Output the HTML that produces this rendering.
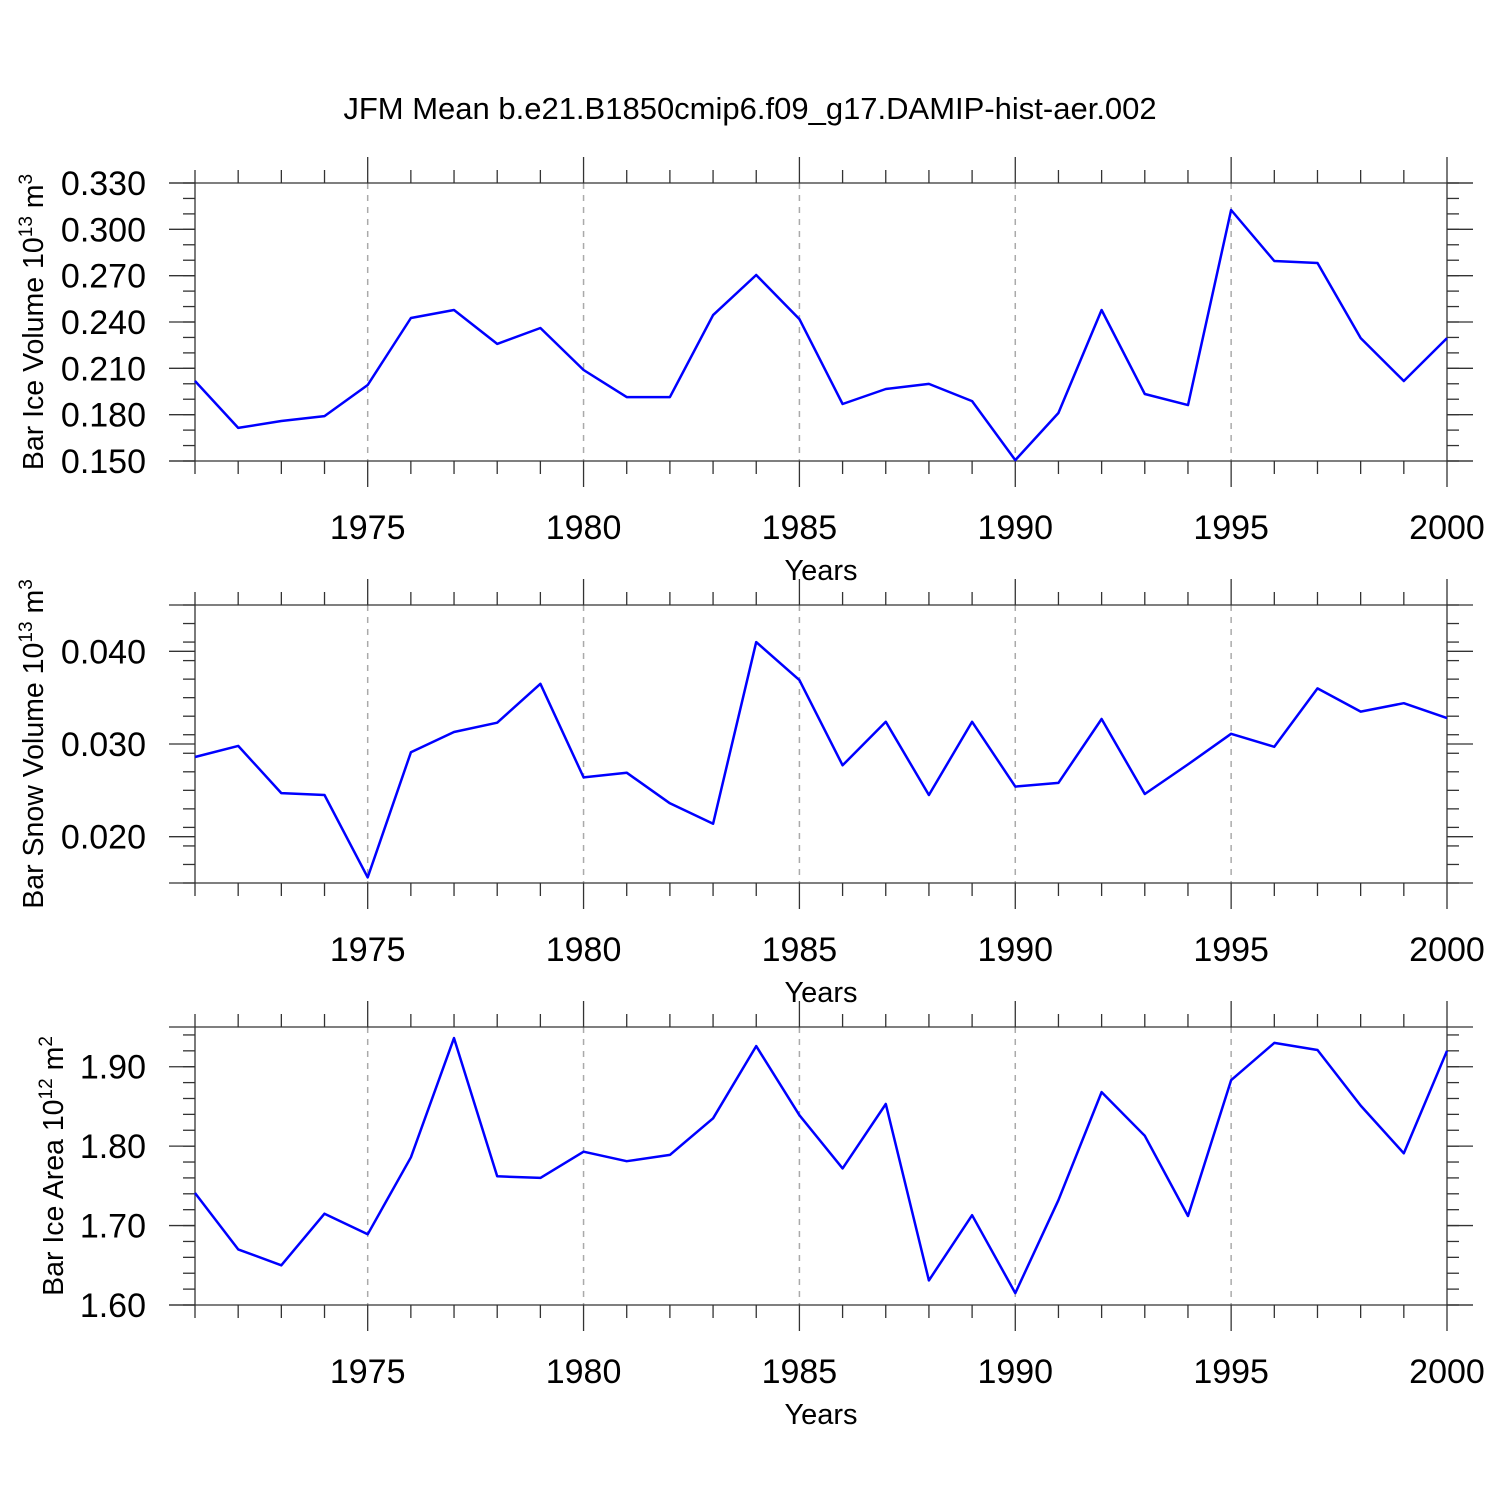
<!DOCTYPE html>
<html><head><meta charset="utf-8"><style>
html,body{margin:0;padding:0;background:#fff}
svg{display:block}
text{font-family:"Liberation Sans",Arial,sans-serif;fill:#000}
</style></head><body>
<svg id="chart" width="1500" height="1500" viewBox="0 0 1500 1500" xmlns="http://www.w3.org/2000/svg">
<text x="750" y="119" font-size="31" text-anchor="middle">JFM Mean b.e21.B1850cmip6.f09_g17.DAMIP-hist-aer.002</text>
</svg>
<script>
const years = [1971,1972,1973,1974,1975,1976,1977,1978,1979,1980,1981,1982,1983,1984,1985,1986,1987,1988,1989,1990,1991,1992,1993,1994,1995,1996,1997,1998,1999,2000];
const iceVolume = [0.2018,0.1714,0.1759,0.1791,0.1992,0.2426,0.2478,0.2258,0.2361,0.2089,0.1914,0.1914,0.2445,0.2704,0.2419,0.1869,0.1966,0.1999,0.1888,0.1506,0.1811,0.2478,0.1934,0.1862,0.3125,0.2795,0.2782,0.2296,0.2018,0.2296];
const snowVolume = [0.0286,0.0298,0.0247,0.0245,0.0156,0.0291,0.0313,0.0323,0.0365,0.0264,0.0269,0.0236,0.0214,0.0410,0.0369,0.0277,0.0324,0.0245,0.0324,0.0254,0.0258,0.0327,0.0246,0.0278,0.0311,0.0297,0.0360,0.0335,0.0344,0.0328];
const iceArea = [1.741,1.670,1.650,1.715,1.689,1.786,1.936,1.762,1.760,1.793,1.781,1.789,1.835,1.926,1.839,1.772,1.853,1.631,1.713,1.615,1.732,1.868,1.813,1.712,1.883,1.930,1.921,1.851,1.791,1.920];
const xTickLabels = [1975,1980,1985,1990,1995,2000];
const iceVolTicks = ["0.150","0.180","0.210","0.240","0.270","0.300","0.330"];
const snowTicks = ["0.020","0.030","0.040"];
const areaTicks = ["1.60","1.70","1.80","1.90"];

const svg = document.getElementById('chart');
const NS = 'http://www.w3.org/2000/svg';
function mk(tag, attrs, parent){const e=document.createElementNS(NS,tag);for(const k in attrs)e.setAttribute(k,attrs[k]);(parent||svg).appendChild(e);return e;}
const X0=195, X1=1447;
const xScale = y => X0 + (y-1971)/(2000-1971)*(X1-X0);

function panel(name, top, ymin, ymax, ticks, minorStep, values, titleHTML, titleX){
  const bot = top+278;
  const g = mk('g',{});
  
  
  const ys = v => bot - (v-ymin)/(ymax-ymin)*278;
  xTickLabels.forEach(t=>{ if(t<2000){const l=mk('line',{x1:xScale(t),x2:xScale(t),y1:top,y2:bot,stroke:'#aaa','stroke-width':1.5,'stroke-dasharray':'6,6'},g);
    }});
  const st={stroke:'#333','stroke-width':1.3};
  mk('line',Object.assign({x1:169,x2:1473,y1:top,y2:top},st),g);
  mk('line',Object.assign({x1:169,x2:1473,y1:bot,y2:bot},st),g);
  mk('line',Object.assign({x1:X0,x2:X0,y1:top,y2:bot},st),g);
  mk('line',Object.assign({x1:X1,x2:X1,y1:top,y2:bot},st),g);
  years.forEach(yr=>{const major = yr%5===0; const x=xScale(yr); const len=major?26:13;
    mk('line',Object.assign({x1:x,x2:x,y1:top,y2:top-len},st),g);
    mk('line',Object.assign({x1:x,x2:x,y1:bot,y2:bot+len},st),g);});
  xTickLabels.forEach(t=>{const tx=mk('text',{x:xScale(t),y:bot+78,'font-size':34,'text-anchor':'middle'},g);tx.textContent=t;
    });
  const xt=mk('text',{x:821,y:bot+119,'font-size':29,'text-anchor':'middle'},g);xt.textContent='Years';
  
  const n=Math.round((ymax-ymin)/minorStep);
  for(let i=0;i<=n;i++){const y=ys(ymin+i*minorStep);
    mk('line',Object.assign({x1:X0,x2:X0-12,y1:y,y2:y},st),g);
    mk('line',Object.assign({x1:X1,x2:X1+12,y1:y,y2:y},st),g);}
  ticks.forEach(t=>{const y=ys(parseFloat(t));
    mk('line',Object.assign({x1:X0,x2:169,y1:y,y2:y},st),g);
    mk('line',Object.assign({x1:X1,x2:1473,y1:y,y2:y},st),g);
    const tx=mk('text',{x:146,y:y+12,'font-size':34,'text-anchor':'end'},g);tx.textContent=t;
    });
  const yt=mk('text',{transform:`translate(${titleX},${top+139}) rotate(-90)`,'font-size':28.5,'text-anchor':'middle'},g);
  yt.innerHTML=titleHTML;
  
  const pts=values.map((v,i)=>xScale(years[i]).toFixed(1)+','+ys(v).toFixed(1)).join(' ');
  const pl=mk('polyline',{points:pts,fill:'none',stroke:'#0000ff','stroke-width':2.5,'stroke-linejoin':'round'},g);
  
}
panel('ice-volume',183,0.15,0.33,iceVolTicks,0.01,iceVolume,'Bar Ice Volume 10<tspan dy="-11" font-size="19">13</tspan><tspan dy="11"> m</tspan><tspan dy="-11" font-size="19">3</tspan>',43);
panel('snow-volume',605,0.015,0.045,snowTicks,0.002,snowVolume,'Bar Snow Volume 10<tspan dy="-11" font-size="19">13</tspan><tspan dy="11"> m</tspan><tspan dy="-11" font-size="19">3</tspan>',43);
panel('ice-area',1027,1.60,1.95,areaTicks,0.02,iceArea,'Bar Ice Area 10<tspan dy="-11" font-size="19">12</tspan><tspan dy="11"> m</tspan><tspan dy="-11" font-size="19">2</tspan>',63);
</script>
</body></html>
